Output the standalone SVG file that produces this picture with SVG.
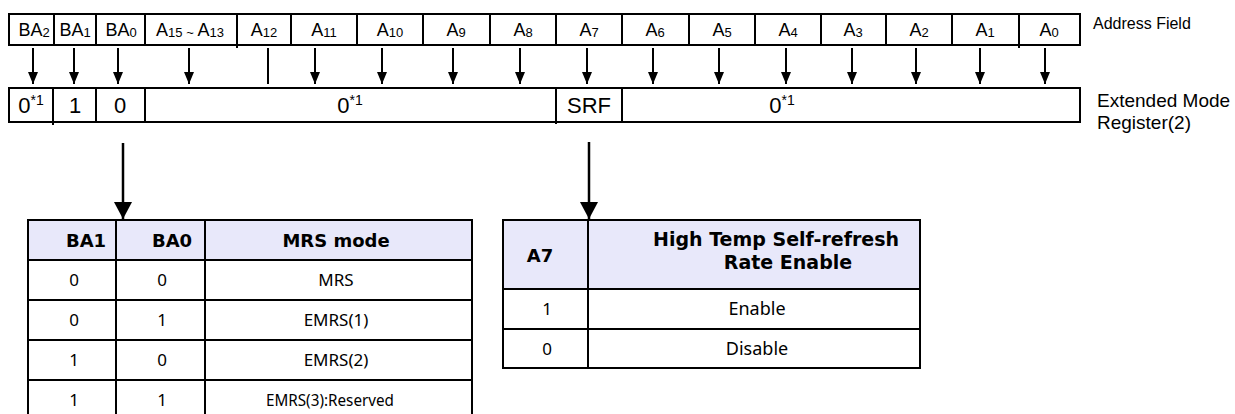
<svg xmlns="http://www.w3.org/2000/svg" width="1235" height="414" viewBox="0 0 1235 414">
<defs>
<marker id="ah" viewBox="0 0 12 10" refX="12" refY="5" markerWidth="12" markerHeight="10" markerUnits="userSpaceOnUse" orient="auto">
<path d="M0,0 L12,5 L0,10 Z" fill="#000"/>
</marker>
<marker id="ahBig" viewBox="0 0 17 18" refX="17" refY="9" markerWidth="17" markerHeight="18" markerUnits="userSpaceOnUse" orient="auto">
<path d="M0,0 L17,9 L0,18 Z" fill="#000"/>
</marker>
<style>
.box{fill:#fff;stroke:#000;stroke-width:2}
.div{stroke:#000;stroke-width:2;fill:none}
.hdr{fill:#e8e8fa;stroke:#000;stroke-width:2}
.lbl{font-family:"Liberation Sans",Arial,sans-serif;font-size:18px;fill:#000;text-anchor:middle}
.sub{font-size:13px}
.reg{font-family:"Liberation Sans",Arial,sans-serif;font-size:22px;fill:#000;text-anchor:middle}
.sup{font-size:14px}
.side{font-family:"Liberation Sans",Arial,sans-serif;font-size:19px;fill:#000}
.side-s{font-size:16px}
.td{font-family:"Noto Sans",sans-serif;font-size:17px;fill:#000;text-anchor:middle}
.td-l{font-size:18px}
.th{font-family:"DejaVu Sans",sans-serif;font-size:18px;font-weight:bold;fill:#000;text-anchor:middle}
.th-l{font-size:19px}
.arr{stroke:#000;stroke-width:2;fill:none;marker-end:url(#ah)}
.arrBig{stroke:#000;stroke-width:2.5;fill:none;marker-end:url(#ahBig)}
</style>
</defs>

<g id="address-field">
<rect class="box" x="9" y="14" width="1071" height="31"/>
<path class="div" d="M54,14V45 M96,14V45 M145,14V45 M237,14V48 M291,14V45 M357,14V45 M423,14V45 M490,14V45 M556,14V45 M622,14V45 M689,14V45 M755,14V45 M821,14V45 M886,14V45 M952,14V45 M1019,14V48"/>
<text class="lbl" x="34" y="36">BA<tspan class="sub" dy="1">2</tspan></text>
<text class="lbl" x="75" y="36">BA<tspan class="sub" dy="1">1</tspan></text>
<text class="lbl" x="121" y="36">BA<tspan class="sub" dy="1">0</tspan></text>
<text class="lbl" x="190" y="36">A<tspan class="sub" dy="1">15</tspan><tspan class="sub"> ~ </tspan><tspan dy="-1">A</tspan><tspan class="sub" dy="1">13</tspan></text>
<text class="lbl" x="264" y="36">A<tspan class="sub" dy="1">12</tspan></text>
<text class="lbl" x="324" y="36">A<tspan class="sub" dy="1">11</tspan></text>
<text class="lbl" x="390" y="36">A<tspan class="sub" dy="1">10</tspan></text>
<text class="lbl" x="456" y="36">A<tspan class="sub" dy="1">9</tspan></text>
<text class="lbl" x="523" y="36">A<tspan class="sub" dy="1">8</tspan></text>
<text class="lbl" x="589" y="36">A<tspan class="sub" dy="1">7</tspan></text>
<text class="lbl" x="655" y="36">A<tspan class="sub" dy="1">6</tspan></text>
<text class="lbl" x="722" y="36">A<tspan class="sub" dy="1">5</tspan></text>
<text class="lbl" x="788" y="36">A<tspan class="sub" dy="1">4</tspan></text>
<text class="lbl" x="853" y="36">A<tspan class="sub" dy="1">3</tspan></text>
<text class="lbl" x="919" y="36">A<tspan class="sub" dy="1">2</tspan></text>
<text class="lbl" x="985" y="36">A<tspan class="sub" dy="1">1</tspan></text>
<text class="lbl" x="1049" y="36">A<tspan class="sub" dy="1">0</tspan></text>
<text class="side side-s" x="1093" y="29">Address Field</text>
</g>

<g id="extended-mode-register">
<rect class="box" x="9" y="88" width="1071" height="34"/>
<path class="div" d="M53,88V125 M96,88V122 M145,88V122 M556,88V124 M622,88V122"/>
<text class="reg" x="31" y="113">0<tspan class="sup" dy="-8">*1</tspan></text>
<text class="reg" x="75" y="113">1</text>
<text class="reg" x="120" y="113">0</text>
<text class="reg" x="350" y="113">0<tspan class="sup" dy="-8">*1</tspan></text>
<text class="reg" x="589" y="113">SRF</text>
<text class="reg" x="782" y="113">0<tspan class="sup" dy="-8">*1</tspan></text>
<text class="side" x="1097" y="107">Extended Mode</text>
<text class="side" x="1097" y="129">Register(2)</text>
</g>

<g id="connectors">
<line class="arr" x1="33" y1="48" x2="33" y2="84"/>
<line class="arr" x1="74" y1="48" x2="74" y2="84"/>
<line class="arr" x1="118" y1="48" x2="118" y2="84"/>
<line class="arr" x1="189" y1="48" x2="189" y2="84"/>
<line class="div" x1="268" y1="48" x2="268" y2="84"/>
<line class="arr" x1="315" y1="48" x2="315" y2="84"/>
<line class="arr" x1="382" y1="48" x2="382" y2="84"/>
<line class="arr" x1="453" y1="48" x2="453" y2="84"/>
<line class="arr" x1="520" y1="48" x2="520" y2="84"/>
<line class="arr" x1="587" y1="48" x2="587" y2="84"/>
<line class="arr" x1="653" y1="48" x2="653" y2="84"/>
<line class="arr" x1="719" y1="48" x2="719" y2="84"/>
<line class="arr" x1="786" y1="48" x2="786" y2="84"/>
<line class="arr" x1="852" y1="48" x2="852" y2="84"/>
<line class="arr" x1="916" y1="48" x2="916" y2="84"/>
<line class="arr" x1="980" y1="48" x2="980" y2="84"/>
<line class="arr" x1="1045" y1="48" x2="1045" y2="84"/>
<line class="arrBig" x1="123" y1="143" x2="123" y2="219"/>
<line class="arrBig" x1="589" y1="142" x2="589" y2="219"/>
</g>

<g id="mrs-mode-table">
<rect class="hdr" x="28" y="220" width="444" height="40"/>
<rect class="box" x="28" y="260" width="444" height="160"/>
<path class="div" d="M28,300H472 M28,340H472 M28,380H472 M116,220V420 M205,220V420"/>
<text class="th" x="86" y="247">BA1</text>
<text class="th" x="172" y="247">BA0</text>
<text class="th" x="336" y="247">MRS mode</text>
<text class="td" x="74" y="286">0</text><text class="td" x="162" y="286">0</text><text class="td" x="336" y="286">MRS</text>
<text class="td" x="74" y="326">0</text><text class="td" x="162" y="326">1</text><text class="td" x="336" y="326">EMRS(1)</text>
<text class="td" x="74" y="366">1</text><text class="td" x="162" y="366">0</text><text class="td" x="336" y="366">EMRS(2)</text>
<text class="td" x="74" y="406">1</text><text class="td" x="162" y="406">1</text><text class="td" x="330" y="406" textLength="128" lengthAdjust="spacingAndGlyphs">EMRS(3):Reserved</text>
</g>

<g id="srf-table">
<rect class="hdr" x="503" y="220" width="417" height="69"/>
<rect class="box" x="503" y="289" width="417" height="79"/>
<path class="div" d="M503,329H920 M588,220V368"/>
<text class="th" x="540" y="262">A7</text>
<text class="th th-l" x="776" y="246">High Temp Self-refresh</text>
<text class="th th-l" x="788" y="269">Rate Enable</text>
<text class="td td-l" x="757" y="315">Enable</text><text class="td" x="547" y="315">1</text>
<text class="td td-l" x="757" y="355">Disable</text><text class="td" x="547" y="355">0</text>
</g>
</svg>
